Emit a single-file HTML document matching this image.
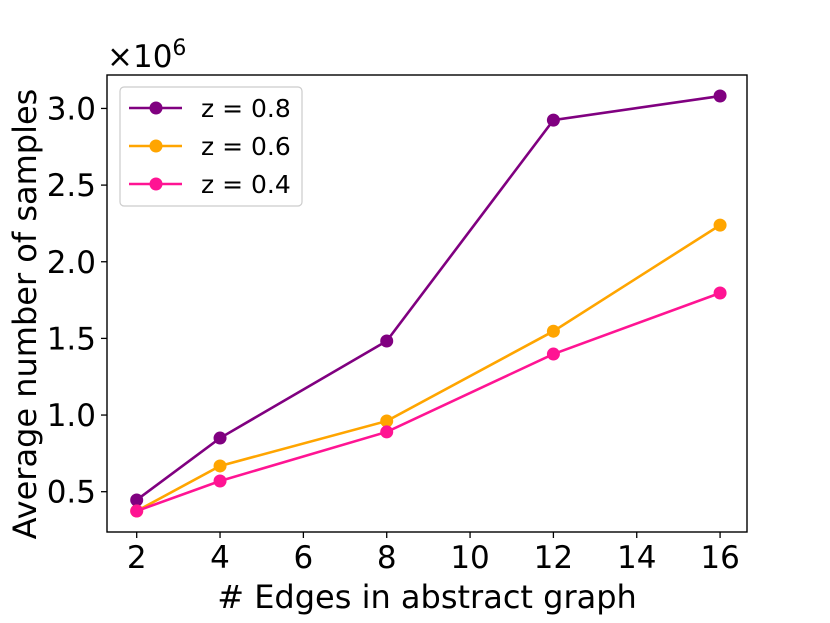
<!DOCTYPE html>
<html><head><meta charset="utf-8"><style>body{margin:0;background:#fff}svg{display:block;font-family:"DejaVu Sans","Liberation Sans",sans-serif}</style></head>
<body>
<svg id="chart" width="830" height="623" viewBox="0 0 830 623"></svg>
<script>
const categories=[2,4,8,12,16];
const seriesNames=["z = 0.8","z = 0.6","z = 0.4"];
const seriesColors=["#800080","#FFA500","#FF1493"];
const z08=[0.446,0.85,1.483,2.924,3.081];
const z06=[0.374,0.668,0.961,1.547,2.239];
const z04=[0.374,0.57,0.89,1.398,1.796];
const xTicks=[2,4,6,8,10,12,14,16];
const yTicks=[0.5,1.0,1.5,2.0,2.5,3.0];
const series=[z08,z06,z04];
const NS="http://www.w3.org/2000/svg";
const svg=document.getElementById('chart');
const L=107,R=747,T=75,B=532;
function xs(v){return 136.7+(v-2)*41.67;}
function ys(v){return 491.7-(v-0.5)*153.3;}
function mk(tag,attrs,parent){const e=document.createElementNS(NS,tag);for(const k in attrs)e.setAttribute(k,attrs[k]);(parent||svg).appendChild(e);return e;}
const frame=mk('rect',{x:L,y:T,width:R-L,height:B-T,fill:'none',stroke:'#000','stroke-width':1.4});


xTicks.forEach(t=>{
  const ln=mk('line',{x1:xs(t),x2:xs(t),y1:B,y2:B+6,stroke:'#000','stroke-width':1.3});
  
  
  const tx=mk('text',{x:xs(t),y:B+36,'font-size':31,'text-anchor':'middle'});
  tx.textContent=t;
  
  
});
yTicks.forEach(t=>{
  const ln=mk('line',{x1:L-6,x2:L,y1:ys(t),y2:ys(t),stroke:'#000','stroke-width':1.3});
  
  
  const tx=mk('text',{x:L-11,y:ys(t)+11,'font-size':31,'text-anchor':'end'});
  tx.textContent=t.toFixed(1);
  
  
});
series.forEach((vals,i)=>{
  const pts=vals.map((v,j)=>xs(categories[j])+','+ys(v)).join(' ');
  const pl=mk('polyline',{points:pts,fill:'none',stroke:seriesColors[i],'stroke-width':2.6});
  
  
  vals.forEach((v,j)=>{
    const c=mk('circle',{cx:xs(categories[j]),cy:ys(v),r:6.5,fill:seriesColors[i]});
    
    
  });
});
const lg=mk('rect',{x:120,y:87,width:182,height:119,rx:4,fill:'#fff',stroke:'#ccc','stroke-width':1.2});


seriesNames.forEach((n,i)=>{
  const y=108+i*38;
  const ln=mk('line',{x1:129,x2:182,y1:y,y2:y,stroke:seriesColors[i],'stroke-width':2.6});
  
  
  const c=mk('circle',{cx:156,cy:y,r:6.5,fill:seriesColors[i]});
  
  
  const tx=mk('text',{x:201,y:y+9,'font-size':25});
  tx.textContent=n;
  
  
});
const xt=mk('text',{x:427,y:608,'font-size':32,'text-anchor':'middle'});
xt.textContent='# Edges in abstract graph';


const yt=mk('text',{x:0,y:0,'font-size':32,'text-anchor':'middle',transform:'translate(36,314) rotate(-90)'});
yt.textContent='Average number of samples';


const ex=mk('text',{x:107,y:67,'font-size':31});
ex.innerHTML='×10<tspan dy="-12" font-size="22">6</tspan>';


</script>
</body></html>
